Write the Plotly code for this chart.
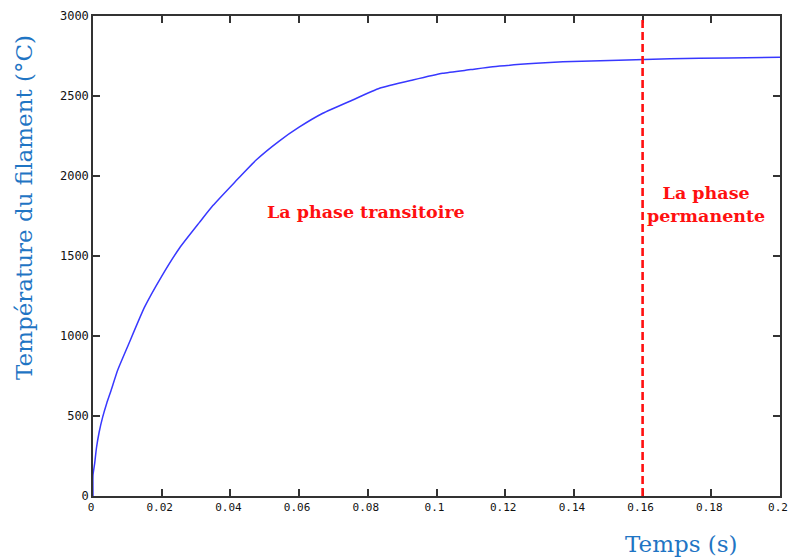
import plotly.graph_objects as go

# Filament temperature response (time in s, temperature in °C)
temps_s = [0, 0, 0.0005, 0.001, 0.0018, 0.00285, 0.004, 0.0053, 0.0072, 0.0103,
           0.015, 0.0199, 0.0252, 0.031, 0.0349, 0.0412, 0.0475, 0.0543, 0.06,
           0.0669, 0.0756, 0.0834, 0.0931, 0.1018, 0.11, 0.1164, 0.129, 0.1368,
           0.153, 0.168, 0.185, 0.2]
temperature_c = [0, 131, 206, 300, 400, 496, 580, 662, 787, 945,
                 1180, 1370, 1550, 1710, 1815, 1960, 2100, 2220, 2305,
                 2392, 2475, 2548, 2600, 2642, 2665, 2683, 2704, 2714,
                 2723, 2733, 2738, 2742]

x_ticks = [0, 0.02, 0.04, 0.06, 0.08, 0.1, 0.12, 0.14, 0.16, 0.18, 0.2]
x_tick_text = ["0", "0.02", "0.04", "0.06", "0.08", "0.1", "0.12", "0.14", "0.16", "0.18", "0.2"]
y_ticks = [0, 500, 1000, 1500, 2000, 2500, 3000]
y_tick_text = ["0", "500", "1000", "1500", "2000", "2500", "3000"]

steady_state_start = 0.16

title_blue = "#1F75C4"
label_red = "#FF1010"

fig = go.Figure()
fig.add_trace(go.Scatter(
    x=temps_s, y=temperature_c, mode="lines",
    line=dict(color="#3838FF", width=1.5, shape="spline", smoothing=0.5),
    showlegend=False, hoverinfo="skip",
))

# Boundary between transient and steady-state phases
fig.add_shape(type="line", xref="x", yref="y",
              x0=steady_state_start, x1=steady_state_start, y0=0, y1=3000,
              line=dict(color=label_red, width=2.6, dash="8px,4px"))

axis_common = dict(
    showgrid=False, zeroline=False, showline=True, linecolor="#333333", linewidth=1.5,
    mirror="ticks", ticks="inside", ticklen=7, tickwidth=1.5, tickcolor="#333333",
    automargin=False, ticklabeloverflow="allow",
)

fig.update_xaxes(range=[0, 0.2], tickvals=x_ticks, ticktext=x_tick_text,
                 ticklabelshift=-2,
                 tickfont=dict(family="DejaVu Sans Mono", size=11, color="#111111"),
                 **axis_common)
fig.update_yaxes(range=[0, 3000], tickvals=y_ticks, ticktext=y_tick_text,
                 tickfont=dict(family="DejaVu Sans Mono", size=12, color="#111111"),
                 **axis_common)

fig.add_annotation(text="La phase transitoire", x=0.0795, y=1775, xref="x", yref="y",
                   showarrow=False, xanchor="center", yanchor="middle",
                   font=dict(family="DejaVu Serif", size=17.5, color=label_red, weight="bold"))
fig.add_annotation(text="La phase<br>permanente", x=0.1785, y=1820, xref="x", yref="y",
                   showarrow=False, xanchor="center", yanchor="middle",
                   font=dict(family="DejaVu Serif", size=17.5, color=label_red, weight="bold"))

fig.add_annotation(text="Temps (s)", x=681, y=544, xref="paper", yref="paper",
                   showarrow=False, font=dict(family="DejaVu Serif", size=23, color=title_blue))
fig.add_annotation(text="Température du filament (°C)", x=24, y=208,
                   xref="paper", yref="paper", textangle=-90, showarrow=False,
                   font=dict(family="DejaVu Serif", size=23, color=title_blue))

# Convert pixel-positioned titles to paper coordinates
W, H = 788, 557
L, R, T, B = 93, 8, 16, 61
pw, ph = W - L - R, H - T - B
for ann in fig.layout.annotations[2:]:
    ann.x = (ann.x - L) / pw
    ann.y = (H - B - ann.y) / ph
    ann.xanchor = "center"
    ann.yanchor = "middle"

fig.update_layout(
    width=W, height=H,
    margin=dict(l=L, r=R, t=T, b=B),
    paper_bgcolor="white", plot_bgcolor="white",
)

fig.write_html("out.html")
